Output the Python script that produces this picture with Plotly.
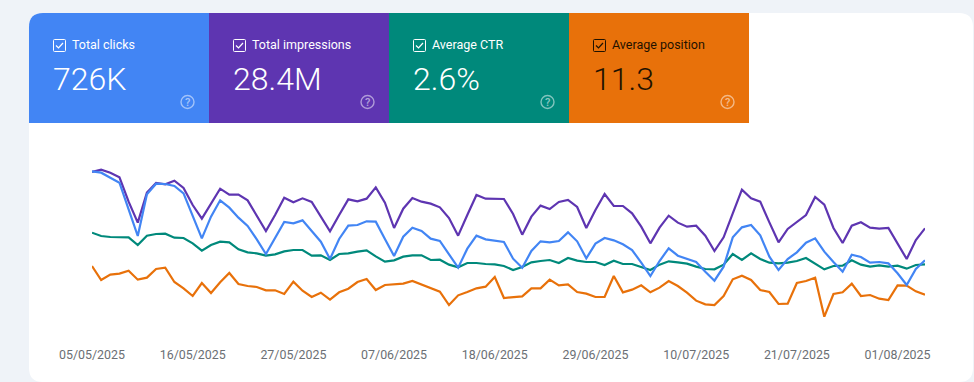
import plotly.graph_objects as go
import pandas as pd

W, H = 974, 382

dates = pd.date_range("2025-05-05", periods=92).strftime("%Y-%m-%d").tolist()
tick_dates = ["2025-05-05", "2025-05-16", "2025-05-27", "2025-06-07", "2025-06-18",
              "2025-06-29", "2025-07-10", "2025-07-21", "2025-08-01"]
tick_labels = ["05/05/2025", "16/05/2025", "27/05/2025", "07/06/2025", "18/06/2025",
               "29/06/2025", "10/07/2025", "21/07/2025", "01/08/2025"]

# Relative index
impressions = [474,481,472,458,385,322,412,441,437,448,426,375,334,380,424,406,406,389,345,297,345,397,383,395,384,338,296,345,392,386,394,428,
               382,306,364,396,385,379,368,336,283,345,405,394,393,393,348,286,340,373,363,384,390,369,306,360,408,372,372,350,310,260,307,343,
               322,310,313,283,237,278,350,421,395,385,323,263,303,324,345,399,376,306,261,313,323,307,304,306,260,213,270,305]
clicks = [476,472,457,442,362,282,407,439,438,432,410,340,275,340,389,367,337,312,272,228,275,324,320,329,297,265,213,273,313,315,326,325,
          273,222,280,307,297,274,267,227,187,244,283,272,269,264,214,187,237,266,263,267,293,266,215,259,276,269,257,240,202,162,207,245,
          223,213,204,175,148,190,278,308,315,284,220,180,213,233,262,275,235,204,175,226,219,202,204,200,170,135,183,209]
ctr = [292,282,279,279,278,255,283,288,289,277,276,260,238,255,265,263,242,233,230,223,227,236,240,240,223,224,210,228,230,235,239,221,
       205,209,220,224,224,210,211,196,188,201,201,198,197,192,180,189,203,207,210,201,216,208,204,204,195,208,198,198,188,180,196,206,
       203,199,190,183,182,196,228,210,230,213,202,200,202,207,216,199,182,192,193,209,196,190,194,190,193,184,195,197]
position = [192,150,166,169,178,151,157,183,187,144,125,102,141,111,143,171,138,132,129,119,119,108,145,118,99,112,91,113,124,144,153,120,
            135,138,139,147,137,125,115,75,104,114,125,130,159,96,99,101,125,125,151,134,137,114,109,99,99,162,113,121,134,113,127,147,
            132,112,88,77,75,102,152,163,150,120,114,78,79,141,147,157,40,108,113,139,102,105,94,90,134,133,116,106]

tile_names = ["Total clicks", "Total impressions", "Average CTR", "Average position"]
tile_values = ["726K", "28.4M", "2.6%", "11.3"]
tile_colors = ["#4285f4", "#5e35b1", "#00897b", "#e8710a"]
tile_text = ["#ffffff", "#ffffff", "#ffffff", "#1f1200"]

def px(x):
    return x / W

def py(y):
    return 1 - y / H

def P(*pts):
    out = []
    for cmd, x, y in pts:
        out.append(f"{cmd}{px(x):.5f},{py(y):.5f}")
    return " ".join(out)

def rounded(x0, y0, x1, y1, tl=0, tr=0, br=0, bl=0):
    s = f"M{px(x0+tl):.5f},{py(y0):.5f} L{px(x1-tr):.5f},{py(y0):.5f} "
    if tr:
        s += f"Q{px(x1):.5f},{py(y0):.5f} {px(x1):.5f},{py(y0+tr):.5f} "
    s += f"L{px(x1):.5f},{py(y1-br):.5f} "
    if br:
        s += f"Q{px(x1):.5f},{py(y1):.5f} {px(x1-br):.5f},{py(y1):.5f} "
    s += f"L{px(x0+bl):.5f},{py(y1):.5f} "
    if bl:
        s += f"Q{px(x0):.5f},{py(y1):.5f} {px(x0):.5f},{py(y1-bl):.5f} "
    s += f"L{px(x0):.5f},{py(y0+tl):.5f} "
    if tl:
        s += f"Q{px(x0):.5f},{py(y0):.5f} {px(x0+tl):.5f},{py(y0):.5f} "
    return s + "Z"

shapes = [dict(type="path", xref="paper", yref="paper", layer="below",
               path=rounded(29, 13, 973, 382, tl=14, tr=14, br=14, bl=14),
               fillcolor="#ffffff", line_width=0)]
annotations = []
for i, (name, val, col, tc) in enumerate(zip(tile_names, tile_values, tile_colors, tile_text)):
    x0 = 29 + 180 * i
    shapes.append(dict(type="path", xref="paper", yref="paper", layer="below",
                       path=rounded(x0, 13, x0 + 180, 123, tl=14 if i == 0 else 0),
                       fillcolor=col, line_width=0))
    bx = x0 + 24
    shapes.append(dict(type="path", xref="paper", yref="paper", layer="above",
                       path=rounded(bx + .5, 39.5, bx + 12.5, 51.5, tl=1, tr=1, br=1, bl=1),
                       fillcolor="rgba(0,0,0,0)", line=dict(color=tc, width=1)))
    shapes.append(dict(type="path", xref="paper", yref="paper", layer="above",
                       path=P(("M", bx + 3, 45.5), ("L", bx + 5.5, 48), ("L", bx + 10, 43)),
                       fillcolor="rgba(0,0,0,0)", line=dict(color=tc, width=1.2)))
    shapes.append(dict(type="circle", xref="paper", yref="paper", layer="above",
                       x0=px(x0 + 152), x1=px(x0 + 165), y0=py(95.5), y1=py(108.5),
                       fillcolor="rgba(0,0,0,0)", line=dict(color="rgba(255,255,255,.5)", width=1.4)))
    annotations.append(dict(x=px(x0 + 158.5), y=py(102), text="?", showarrow=False,
                            xref="paper", yref="paper", xanchor="center", yanchor="middle",
                            font=dict(family="Roboto", size=11, color="rgba(255,255,255,.55)", weight=500)))
    annotations.append(dict(x=px(x0 + 43), y=py(44.5), text=name, showarrow=False,
                            xref="paper", yref="paper", xanchor="left", yanchor="middle",
                            xshift=-2,
                            font=dict(family="Roboto", size=12.5, color=tc)))
    annotations.append(dict(x=px(x0 + 24), y=py(79), text=val, showarrow=False,
                            xref="paper", yref="paper", xanchor="left", yanchor="middle",
                            xshift=-2,
                            font=dict(family="Roboto", size=32, color=tc, weight=300)))

fig = go.Figure()
for vals, col in zip([position, ctr, impressions, clicks],
                     ["#e8710a", "#00897b", "#5e35b1", "#4285f4"]):
    fig.add_trace(go.Scatter(x=dates, y=vals, mode="lines", showlegend=False,
                             line=dict(color=col, width=2.2), cliponaxis=False))

fig.update_layout(
    width=W, height=H, margin=dict(l=0, r=0, t=0, b=0, autoexpand=False),
    paper_bgcolor="#eff3f8", plot_bgcolor="rgba(0,0,0,0)",
    shapes=shapes, annotations=annotations,
    xaxis=dict(domain=[px(92), px(925)], range=[dates[0], dates[-1]], type="date",
               tickmode="array", tickvals=tick_dates, ticktext=tick_labels,
               showgrid=False, zeroline=False, showline=False,
               ticks="outside", ticklen=8, tickcolor="rgba(0,0,0,0)",
               tickfont=dict(family="Roboto", size=12.4, color="#6b6f74")),
    yaxis=dict(domain=[py(335), py(150)], range=[-15, 540], visible=False),
)

fig.write_html("out.html", config=dict(displayModeBar=False),
               post_script="document.body.style.margin='0';document.body.style.overflow='hidden';")
